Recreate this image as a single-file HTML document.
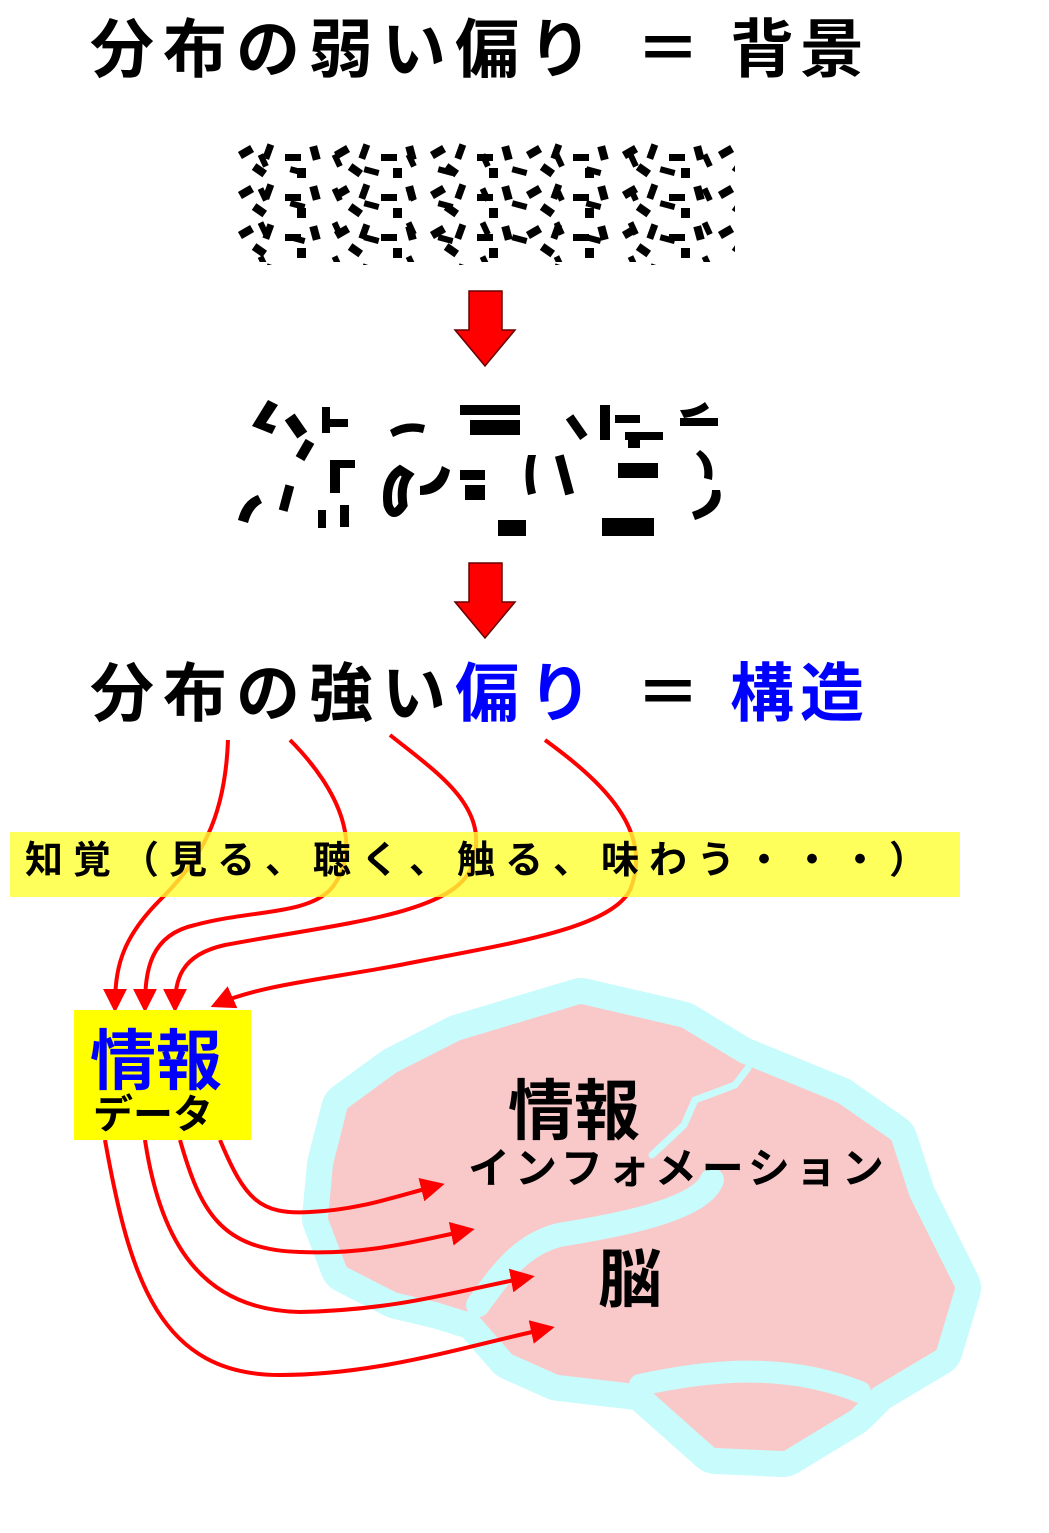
<!DOCTYPE html>
<html><head><meta charset="utf-8"><style>
html,body{margin:0;padding:0;background:#fff}
body{width:1049px;height:1533px;position:relative;overflow:hidden;font-family:"Liberation Sans","Noto Sans CJK JP",sans-serif}
.t{position:absolute;font-weight:bold;white-space:nowrap;line-height:1}
</style></head><body>
<svg width="1049" height="1533" style="position:absolute;left:0;top:0">
<defs>
<marker id="ah" viewBox="0 0 10 10" refX="8" refY="5" markerWidth="6" markerHeight="6" orient="auto" markerUnits="strokeWidth">
<path d="M0,0 L10,5 L0,10 z" fill="#f00"/></marker>
<pattern id="p1" x="235" y="140" width="96" height="40" patternUnits="userSpaceOnUse">
<rect x="4" y="8" width="14" height="8" transform="rotate(-30 11 12)" fill="#000"/>
<rect x="30" y="4" width="7" height="15" transform="rotate(20 33 11)" fill="#000"/>
<rect x="50" y="14" width="16" height="7" fill="#000"/>
<rect x="76" y="6" width="8" height="14" transform="rotate(-15 80 13)" fill="#000"/>
<rect x="18" y="26" width="13" height="8" transform="rotate(35 24 30)" fill="#000"/>
<rect x="62" y="28" width="9" height="10" fill="#000"/>
</pattern>
<pattern id="p2" x="250" y="150" width="74" height="34" patternUnits="userSpaceOnUse">
<rect x="10" y="4" width="6" height="13" transform="rotate(-25 13 10)" fill="#000"/>
<rect x="40" y="18" width="15" height="6" transform="rotate(15 47 21)" fill="#000"/>
</pattern>
</defs>
<rect x="235" y="140" width="500" height="125" fill="url(#p1)"/>
<rect x="240" y="150" width="490" height="112" fill="url(#p2)"/>
<path d="M469,291 H502 V330 H515 L485,366 L455,330 H469 Z" fill="#f00" stroke="#600" stroke-width="1.5"/>
<path d="M469,563 H502 V602 H515 L485,638 L455,602 H469 Z" fill="#f00" stroke="#600" stroke-width="1.5"/>
<g fill="#000">
<path d="M268,400 l10,5 -12,18 10,3 -4,8 -20,-8z"/>
<rect x="290" y="415" width="12" height="22" transform="rotate(-35 296 426)"/>
<path d="M322,407 l8,0 0,12 18,0 0,8 -18,0 0,6 -8,0z"/>
<rect x="300" y="440" width="10" height="20" transform="rotate(30 305 450)"/>
<path d="M390,430 q15,-10 35,-5 l-2,8 q-15,-4 -30,4z"/>
<path d="M238,520 q5,-20 20,-25 l4,8 q-10,5 -14,20z"/>
<rect x="282" y="485" width="9" height="26" transform="rotate(15 286 498)"/>
<path d="M330,460 h25 v8 h-15 v25 h-10z"/>
<rect x="318" y="510" width="8" height="18"/><rect x="340" y="505" width="9" height="22"/>
<path d="M400,470 q-15,10 -12,35 q5,15 15,0 q-3,-20 5,-30z" fill="none" stroke="#000" stroke-width="9"/>
<path d="M420,495 q25,0 30,-25 l-8,-4 q-5,18 -22,20z"/>
<rect x="460" y="405" width="60" height="10"/><rect x="470" y="420" width="50" height="15"/>
<rect x="460" y="470" width="25" height="10"/><rect x="465" y="485" width="20" height="15"/>
<rect x="498" y="520" width="28" height="16"/>
<path d="M528,455 q-5,20 0,40 l8,-2 q-5,-18 0,-38z"/>
<rect x="560" y="455" width="9" height="40" transform="rotate(-15 564 475)"/>
<rect x="572" y="415" width="9" height="25" transform="rotate(-35 576 427)"/>
<path d="M600,405 h10 v35 h-10z"/><rect x="615" y="415" width="25" height="8"/><rect x="625" y="432" width="38" height="8"/><rect x="628" y="438" width="12" height="10"/>
<rect x="618" y="463" width="40" height="15"/>
<rect x="602" y="518" width="52" height="18"/>
<path d="M680,410 q15,0 25,-8 l4,6 q-10,8 -25,10z"/><rect x="680" y="418" width="38" height="8"/>
<path d="M700,450 q15,10 12,30 l-8,-2 q2,-15 -8,-24z"/>
<path d="M720,490 q5,20 -25,30 l-3,-8 q20,-6 20,-22z"/>
</g>
<g fill="none" stroke="#f00" stroke-width="4" marker-end="url(#ah)">
<path d="M228,740 C225,820 200,860 160,900 C120,940 115,970 115,1008"/>
<path d="M290,740 C340,790 365,850 330,890 C305,915 250,910 195,925 C150,935 145,970 145,1008"/>
<path d="M390,735 C440,775 495,810 470,870 C450,915 330,925 225,945 C180,955 175,980 175,1008"/>
<path d="M545,740 C600,780 655,830 630,890 C610,930 500,945 400,965 C320,980 260,985 215,1005"/>
</g>
<rect x="10" y="832" width="950" height="65" fill="#ffff33" opacity="0.8"/>
<g stroke-linejoin="round">
<path d="M336,1165 L350,1110 L398,1075 L461,1043 L581,1007 L680,1030 L738,1065 L836,1105 L889,1142 L907,1198 L952,1288 L934,1348 L872,1385 L849,1408 L783,1448 L716,1445 L645,1382 L559,1372 L514,1352 L479,1312 L440,1300 L398,1290 L349,1265 L331,1218 Z" fill="#c8fbfc" stroke="#c8fbfc" stroke-width="58"/>
<path d="M336,1165 L350,1110 L398,1075 L461,1043 L581,1007 L680,1030 L738,1065 L836,1105 L889,1142 L907,1198 L952,1288 L934,1348 L872,1385 L849,1408 L783,1448 L716,1445 L645,1382 L559,1372 L514,1352 L479,1312 L440,1300 L398,1290 L349,1265 L331,1218 Z" fill="#f9c9c9" stroke="#f9c9c9" stroke-width="6"/>
</g>
<path d="M712,1180 C700,1210 620,1225 559,1235 C520,1245 500,1275 478,1305" fill="none" stroke="#c8fbfc" stroke-width="24" stroke-linecap="round"/>
<path d="M640,1385 C700,1372 780,1360 860,1392" fill="none" stroke="#c8fbfc" stroke-width="22" stroke-linecap="round"/>
<path d="M748,1068 L735,1085 L695,1100 L684,1125 L652,1155" fill="none" stroke="#c8fbfc" stroke-width="7" stroke-linecap="round"/>
<g fill="none" stroke="#f00" stroke-width="4" marker-end="url(#ah)">
<path d="M220,1140 C245,1200 260,1215 310,1212 C360,1210 400,1195 440,1185"/>
<path d="M180,1140 C200,1210 220,1250 300,1252 C370,1255 420,1240 470,1230"/>
<path d="M145,1140 C160,1240 200,1310 300,1312 C400,1310 460,1290 530,1277"/>
<path d="M105,1140 C130,1280 160,1375 280,1375 C380,1375 470,1345 550,1328"/>
</g>
<rect x="74" y="1010" width="177" height="130" fill="#ffff00"/>
</svg>
<div class="t" style="left:90px;top:18px;font-size:64px;letter-spacing:9px;color:#000">分布の弱い偏り</div>
<div class="t" style="left:636px;top:18px;font-size:64px;color:#000">＝</div>
<div class="t" style="left:730px;top:18px;font-size:64px;letter-spacing:6px;color:#000">背景</div>
<div class="t" style="left:90px;top:662px;font-size:64px;letter-spacing:9px;color:#000">分布の強い<span style="color:#0000ff">偏り</span></div>
<div class="t" style="left:636px;top:662px;font-size:64px;color:#000">＝</div>
<div class="t" style="left:730px;top:662px;font-size:64px;letter-spacing:6px;color:#0000ff">構造</div>
<div class="t" style="left:25px;top:842px;font-size:38px;letter-spacing:10px;color:#000">知覚（見る、聴く、触る、味わう・・・）</div>
<div class="t" style="left:90px;top:1028px;font-size:66px;color:#0000ff">情報</div>
<div class="t" style="left:93px;top:1095px;font-size:40px;color:#000">データ</div>
<div class="t" style="left:508px;top:1078px;font-size:66px;color:#000">情報</div>
<div class="t" style="left:468px;top:1148px;font-size:42px;letter-spacing:5px;color:#000">インフォメーション</div>
<div class="t" style="left:598px;top:1248px;font-size:64px;color:#000">脳</div>
</body></html>
